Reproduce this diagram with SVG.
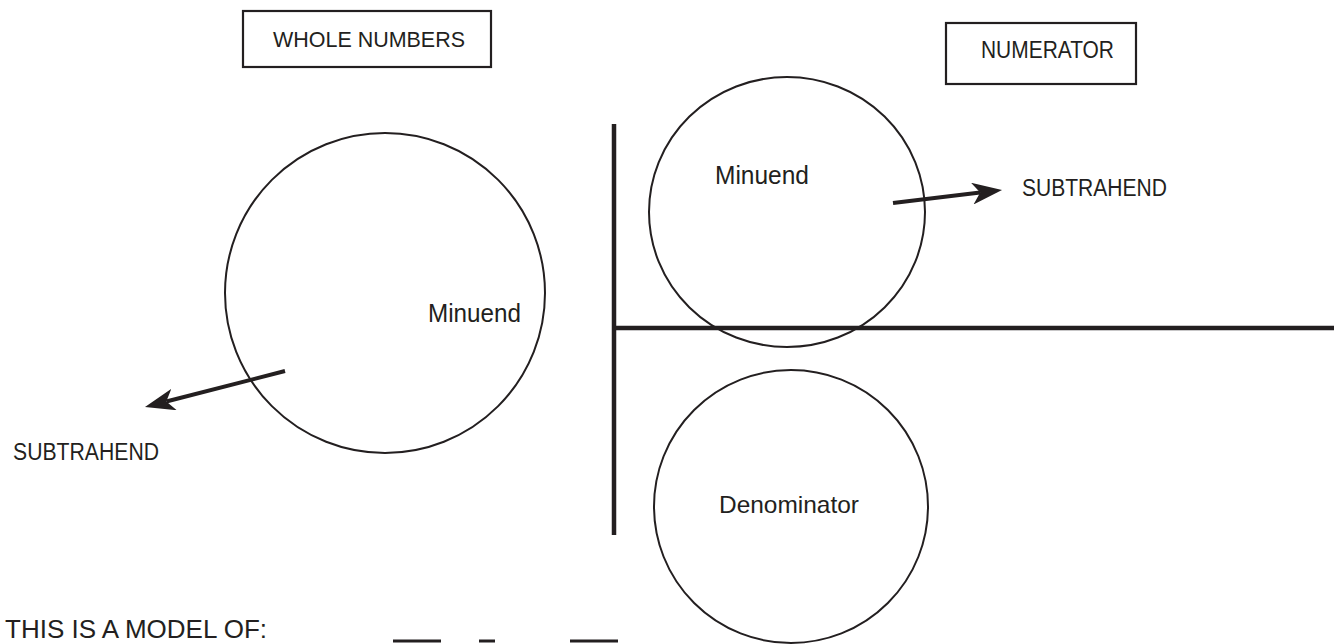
<svg xmlns="http://www.w3.org/2000/svg" width="1334" height="644" viewBox="0 0 1334 644">
  <style>
    .lbl { font-family: "Liberation Sans", Arial, sans-serif; fill: #231f20; }
    .box { fill: none; stroke: #231f20; stroke-width: 2.2; }
    .circ { fill: none; stroke: #231f20; stroke-width: 2; }
    .bar { stroke: #231f20; stroke-width: 4.5; fill: none; }
    .arrow { stroke: #231f20; stroke-width: 4; fill: none; marker-end: url(#head); }
    .mark { stroke: #231f20; stroke-width: 3; }
  </style>
  <defs>
    <marker id="head" viewBox="0 -11 30 22" refX="8" refY="0" markerWidth="30" markerHeight="22" markerUnits="userSpaceOnUse" orient="auto">
      <path d="M30,0 L0,-11 L8,0 L0,11 Z" fill="#231f20"/>
    </marker>
  </defs>
  <rect width="1334" height="644" fill="#ffffff"/>

  <g id="whole-numbers">
    <rect class="box" x="243" y="11" width="248" height="56"/>
    <text class="lbl" x="369" y="47" font-size="22.5" text-anchor="middle" textLength="192" lengthAdjust="spacingAndGlyphs">WHOLE NUMBERS</text>
  </g>

  <g id="numerator">
    <rect class="box" x="946" y="23" width="190" height="61"/>
    <text class="lbl" x="1047.5" y="58" font-size="23" text-anchor="middle" textLength="133" lengthAdjust="spacingAndGlyphs">NUMERATOR</text>
  </g>

  <g id="left-minuend">
    <circle class="circ" cx="385" cy="293" r="160"/>
    <text class="lbl" x="428" y="322" font-size="25" textLength="93" lengthAdjust="spacingAndGlyphs">Minuend</text>
  </g>

  <g id="right-minuend">
    <ellipse class="circ" cx="787" cy="212" rx="138" ry="135"/>
    <text class="lbl" x="715" y="184" font-size="25" textLength="94" lengthAdjust="spacingAndGlyphs">Minuend</text>
  </g>

  <g id="denominator">
    <ellipse class="circ" cx="791" cy="506.5" rx="137" ry="136.5"/>
    <text class="lbl" x="719" y="513" font-size="24" textLength="140" lengthAdjust="spacingAndGlyphs">Denominator</text>
  </g>

  <g id="subtrahend-right">
    <text class="lbl" x="1022" y="196" font-size="23.5" textLength="145" lengthAdjust="spacingAndGlyphs">SUBTRAHEND</text>
  </g>

  <g id="subtrahend-left">
    <text class="lbl" x="13" y="460" font-size="23.5" textLength="146" lengthAdjust="spacingAndGlyphs">SUBTRAHEND</text>
  </g>

  <g id="model-caption">
    <text class="lbl" x="5" y="638" font-size="26" textLength="262" lengthAdjust="spacingAndGlyphs">THIS IS A MODEL OF:</text>
    <line class="mark" x1="393" y1="641" x2="441" y2="641"/>
    <line class="mark" x1="479" y1="641" x2="495" y2="641"/>
    <line class="mark" x1="570" y1="641" x2="618" y2="641"/>
  </g>

  <g id="connectors">
    <line class="bar" x1="614" y1="124" x2="614" y2="535"/>
    <line class="bar" x1="612" y1="328" x2="1334" y2="328"/>
    <line class="arrow" x1="893" y1="203" x2="980.2" y2="192.6"/>
    <line class="arrow" x1="285" y1="371" x2="166.3" y2="401.5"/>
  </g>
</svg>
